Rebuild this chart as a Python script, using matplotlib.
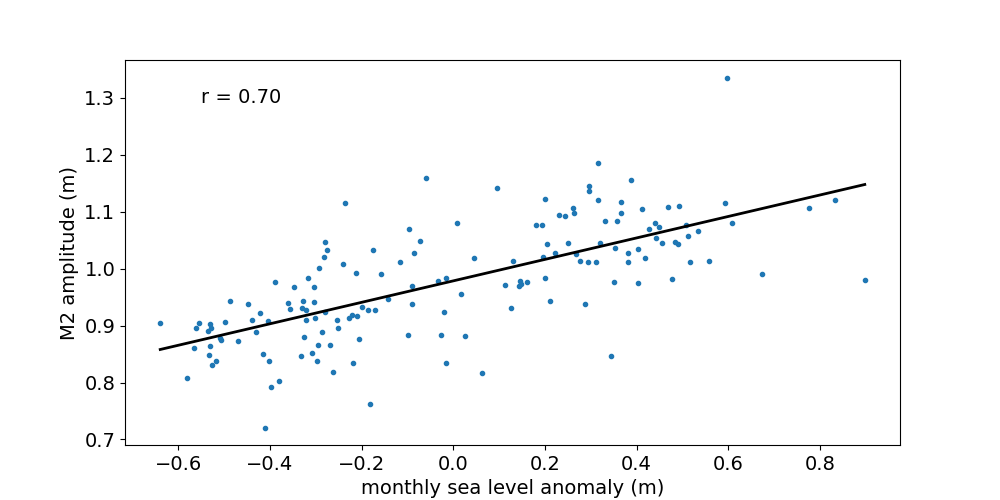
import numpy as np
from matplotlib import pyplot as plt

# monthly sea level anomaly (m)
sla = [
    -0.6395, -0.2366, -0.2796, -0.2752, -0.2818, -0.1749, -0.2927, -0.2403, -0.2120, -0.1575,
    -0.3887, -0.3167, -0.3472, -0.3036, -0.4868, -0.4475, -0.3603, -0.3276, -0.3036, -0.3559,
    -0.3298, -0.3210, -0.2796, -0.1989, -0.1858, -0.1706, -0.4214, -0.5544, -0.5304, -0.4977,
    -0.4388, -0.4039, -0.3210, -0.3014, -0.2534, -0.2273, -0.2207, -0.2098, -0.5610, -0.5348,
    -0.5282, -0.4301, -0.3254, -0.2862, -0.2513, -0.5086, -0.5064, -0.4694, -0.2055, -0.5653,
    -0.5304, -0.2949, -0.2687, -0.5326, -0.4148, -0.3320, -0.3080, -0.5173, -0.4017, -0.2971,
    -0.2185, -0.5261, -0.2622, -0.5806, -0.3799, -0.3974, -0.1815, -0.4105,
    -0.0593, 0.0955, 0.3158, 0.2962, 0.2962, 0.3878, 0.1996, 0.3158, 0.3660, 0.2613,
    0.2635, 0.3660, 0.2308, 0.2438, 0.0076, 0.1799, 0.1937, 0.3311, 0.3573, -0.0964,
    -0.0724, 0.2046, 0.2504, 0.3202, -0.0855, 0.2220, 0.2678, 0.3529, 0.3812, 0.4024,
    0.0454, 0.1959, -0.1160, 0.1304, 0.2766, 0.2940, 0.3114, 0.3812, -0.0332, -0.0157,
    0.2002, -0.0899, 0.1130, 0.1457, 0.1435, 0.1479, 0.1610, 0.3507, 0.4031, 0.0164,
    -0.1422, -0.0899, 0.1261, 0.2111, 0.2875, -0.0201, -0.0986, -0.0266, 0.0257, -0.0157,
    0.0628, 0.3442,
    0.5972, 0.4118, 0.4685, 0.4925, 0.5928, 0.6081, 0.7760, 0.8327, 0.4270, 0.4401,
    0.4489, 0.4423, 0.4554, 0.5077, 0.5121, 0.5339, 0.4838, 0.4903, 0.4183, 0.4772,
    0.5165, 0.5579, 0.6735, 0.8981,
]

# M2 amplitude (m)
m2 = [
    0.905, 1.116, 1.047, 1.033, 1.021, 1.033, 1.002, 1.009, 0.993, 0.991,
    0.977, 0.984, 0.968, 0.968, 0.944, 0.938, 0.940, 0.944, 0.942, 0.930,
    0.931, 0.928, 0.924, 0.933, 0.928, 0.928, 0.923, 0.905, 0.902, 0.907,
    0.910, 0.909, 0.910, 0.914, 0.910, 0.914, 0.919, 0.917, 0.895, 0.891,
    0.895, 0.888, 0.880, 0.889, 0.895, 0.879, 0.875, 0.873, 0.877, 0.861,
    0.865, 0.866, 0.866, 0.849, 0.851, 0.847, 0.852, 0.838, 0.838, 0.838,
    0.835, 0.830, 0.819, 0.808, 0.803, 0.793, 0.763, 0.721,
    1.160, 1.141, 1.186, 1.146, 1.137, 1.156, 1.123, 1.120, 1.118, 1.107,
    1.098, 1.098, 1.095, 1.093, 1.081, 1.077, 1.076, 1.083, 1.084, 1.069,
    1.049, 1.044, 1.046, 1.046, 1.028, 1.028, 1.026, 1.037, 1.028, 1.035,
    1.019, 1.021, 1.012, 1.014, 1.014, 1.011, 1.011, 1.011, 0.979, 0.984,
    0.984, 0.970, 0.972, 0.979, 0.970, 0.974, 0.977, 0.977, 0.975, 0.956,
    0.947, 0.938, 0.931, 0.944, 0.938, 0.924, 0.884, 0.884, 0.882, 0.835,
    0.817, 0.847,
    1.336, 1.105, 1.109, 1.111, 1.116, 1.081, 1.107, 1.120, 1.070, 1.081,
    1.074, 1.054, 1.046, 1.076, 1.058, 1.067, 1.047, 1.044, 1.019, 0.982,
    1.011, 1.014, 0.991, 0.981,
]

x = np.array(sla)
y = np.array(m2)

# linear fit
p = np.polyfit(x, y, 1)
r = np.corrcoef(x, y)[0, 1]
print(p, r)

plt.rcParams['font.size'] = 14
fig = plt.figure(figsize=(10, 5), dpi=100)
plt.plot(x, y, '.')
plt.plot(x, np.polyval(p, x), 'k', linewidth=2)
plt.text(-0.55, 1.3, 'r = 0.70', va='center')
plt.xlabel('monthly sea level anomaly (m)')
plt.ylabel('M2 amplitude (m)')
plt.savefig('out.png')
